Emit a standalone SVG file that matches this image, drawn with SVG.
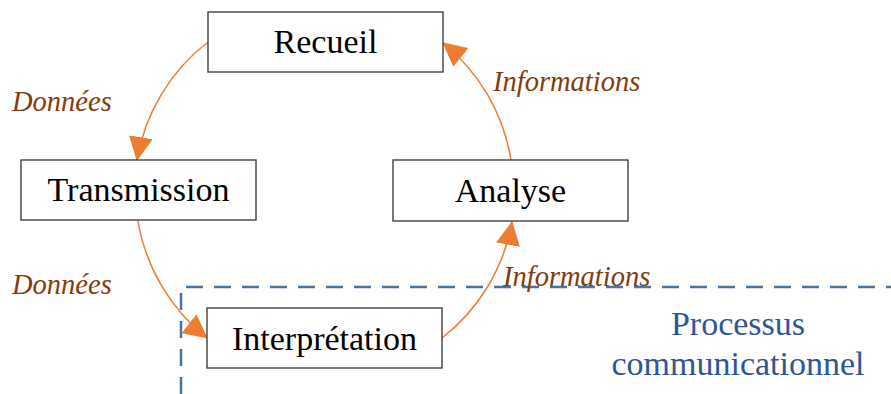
<svg xmlns="http://www.w3.org/2000/svg" width="891" height="394" viewBox="0 0 891 394">
<style>
.box{fill:#fff;stroke:#404040;stroke-width:1.4}
.bt{font-family:"Liberation Serif",serif;font-size:34px;fill:#000;text-anchor:middle}
.lbl{font-family:"Liberation Serif",serif;font-size:28.5px;font-style:italic;fill:#843c0c}
.conn{fill:none;stroke:#ed7d31;stroke-width:1.5}
.frame{fill:none;stroke:#4a74a4;stroke-width:2.5;stroke-dasharray:17 11}
.pt{font-family:"Liberation Serif",serif;font-size:34px;fill:#2f5597;text-anchor:middle}
</style>
<defs>
<marker id="arr" markerUnits="userSpaceOnUse" viewBox="0 0 24 24" markerWidth="24" markerHeight="24" refX="23" refY="12" orient="auto">
<path d="M0,0 L24,12 L0,24 Z" fill="#ed7d31"/>
</marker>
</defs>
<g id="frame">
<path class="frame" d="M181,394 L181,287 L891,287"/>
<text class="pt" x="738" y="335">Processus</text>
<text class="pt" x="738" y="375">communicationnel</text>
</g>
<g id="connectors">
<path class="conn" d="M208,42 A189,189 0 0 0 137,160" marker-end="url(#arr)"/>
<path class="conn" d="M138,221 A189,189 0 0 0 207,338" marker-end="url(#arr)"/>
<path class="conn" d="M442,338 A189,189 0 0 0 512,222" marker-end="url(#arr)"/>
<path class="conn" d="M511,160 A189,189 0 0 0 443,43" marker-end="url(#arr)"/>
<text class="lbl" x="12" y="111">Données</text>
<text class="lbl" x="12" y="294">Données</text>
<text class="lbl" x="493" y="91">Informations</text>
<text class="lbl" x="503" y="286">Informations</text>
</g>
<g id="recueil">
<rect class="box" x="208" y="12" width="235" height="60"/>
<text class="bt" x="325.5" y="53">Recueil</text>
</g>
<g id="transmission">
<rect class="box" x="21" y="160" width="235" height="60"/>
<text class="bt" x="138.5" y="201">Transmission</text>
</g>
<g id="analyse">
<rect class="box" x="393" y="160" width="235" height="61"/>
<text class="bt" x="510.5" y="202">Analyse</text>
</g>
<g id="interpretation">
<rect class="box" x="207" y="308" width="235" height="60"/>
<text class="bt" x="324.5" y="350">Interprétation</text>
</g>
</svg>
